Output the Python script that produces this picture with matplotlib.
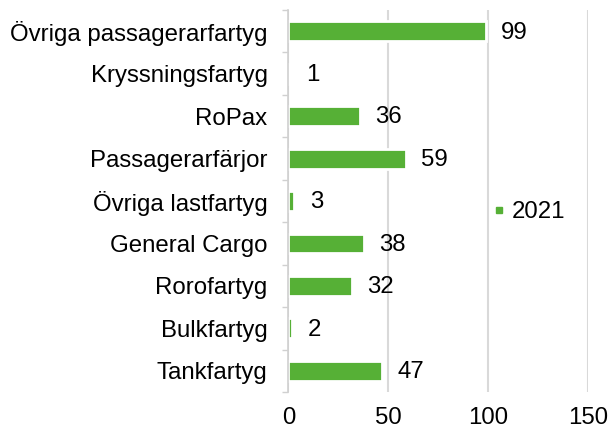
import matplotlib
matplotlib.use("Agg")
import matplotlib.pyplot as plt
from matplotlib.lines import Line2D
from matplotlib.ticker import FixedLocator

# Data (top to bottom as shown)
kategorier = ["Övriga passagerarfartyg", "Kryssningsfartyg", "RoPax", "Passagerarfärjor",
              "Övriga lastfartyg", "General Cargo", "Rorofartyg", "Bulkfartyg", "Tankfartyg"]
varden_2021 = [99, 1, 36, 59, 3, 38, 32, 2, 47]
x_ticks = [0, 50, 100, 150]

gron = "#56B036"
plt.rcParams["font.family"] = ["Liberation Sans", "DejaVu Sans"]
fs = 17.3

fig = plt.figure(figsize=(6.11, 4.30), dpi=100)
ax = fig.add_axes([0.472, 0.088, 0.49, 0.889])

pos = list(range(len(kategorier)))
ax.barh(pos, varden_2021, height=0.47, color=gron, edgecolor="white", linewidth=2.0, zorder=2)

# värdeetiketter
for p, v in zip(pos, varden_2021):
    ax.annotate(str(v), xy=(v, p), xytext=(11, -1), textcoords="offset points",
                va="center", ha="left", fontsize=fs)

ax.set_xlim(0, 150)
ax.set_ylim(len(kategorier) - 0.5, -0.5)
ax.set_xticks(x_ticks)
ax.set_yticks(pos)
ax.set_yticklabels(kategorier)
ax.yaxis.set_minor_locator(FixedLocator([p - 0.5 for p in pos] + [len(pos) - 0.5]))

ax.tick_params(axis="y", which="major", length=0, pad=15, labelsize=fs)
ax.tick_params(axis="y", which="minor", length=4, width=1, color="#D0D0D0", direction="out")
ax.tick_params(axis="x", which="major", length=0, pad=11, labelsize=fs)

ax.grid(axis="x", color="#D9D9D9", linewidth=1.5, zorder=0)
ax.set_axisbelow(True)
for s in ["top", "right", "bottom"]:
    ax.spines[s].set_visible(False)
ax.spines["left"].set_color("#D0D0D0")
ax.spines["left"].set_linewidth(1.2)
ax.spines["left"].set_zorder(3)

handle = Line2D([], [], linestyle="none", marker="s", markersize=5, color=gron)
ax.legend([handle], ["2021"], loc="center left", bbox_to_anchor=(0.61, 0.47),
          frameon=False, fontsize=fs, handlelength=0.5, handletextpad=0.3)

fig.savefig("out.png", dpi=100)
